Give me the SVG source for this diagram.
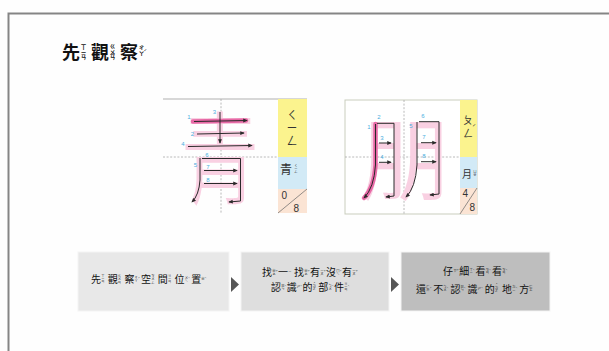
<svg xmlns="http://www.w3.org/2000/svg" width="609" height="351" viewBox="0 0 609 351">
  <defs>
    <style>
      .h { font-family: "Noto Sans CJK TC", "Noto Sans CJK SC", sans-serif; font-size: 10px; fill: #111; }
      .th { font-family: "Noto Sans CJK TC", "Noto Sans CJK SC", sans-serif; font-size: 18px; font-weight: bold; fill: #111; }
      .z { font-family: "Noto Sans CJK TC", "Noto Sans CJK SC", sans-serif; font-size: 3.3px; fill: #222; writing-mode: vertical-rl; text-anchor: middle; }
      .zt { font-family: "Noto Sans CJK TC", "Noto Sans CJK SC", sans-serif; font-size: 5.6px; fill: #111; writing-mode: vertical-rl; text-anchor: middle; font-weight: bold; }
      .t { font-family: "Noto Sans CJK TC", "Noto Sans CJK SC", sans-serif; font-size: 3.8px; fill: #222; }
      .tt { font-family: "Noto Sans CJK TC", "Noto Sans CJK SC", sans-serif; font-size: 6px; fill: #111; }
      .num { font-family: "Liberation Sans", Arial, sans-serif; font-size: 6px; fill: #4aaee0; text-anchor: middle; }
      .big { font-family: "Noto Sans CJK TC", "Noto Sans CJK SC", sans-serif; fill: #f9d0e2; text-anchor: middle; }
      .stk { fill: none; stroke: #2a2a2a; stroke-width: 1; stroke-linejoin: round; marker-end: url(#ah); }
      .hot { fill: none; stroke: #e4579b; stroke-width: 4.5; stroke-linecap: round; stroke-linejoin: round; opacity: 0.85; }
      .grid { stroke: #a8a8a8; stroke-width: 0.8; stroke-dasharray: 2 1.6; }
      .col { font-family: "Noto Sans CJK TC", "Noto Sans CJK SC", sans-serif; fill: #333; }
      .zc { font-family: "Noto Sans CJK TC", "Noto Sans CJK SC", sans-serif; fill: #333; writing-mode: vertical-rl; text-anchor: middle; }
      .dig { font-family: "Liberation Sans", Arial, sans-serif; font-size: 10px; fill: #333; }
      .box { stroke: #f4f4f4; stroke-width: 1; }
    </style>
    <marker id="ah" markerUnits="userSpaceOnUse" markerWidth="4.5" markerHeight="4.5" viewBox="0 0 6 6" refX="5" refY="3" orient="auto">
      <path d="M0,0.4 L6,3 L0,5.6 z" fill="#2a2a2a"/>
    </marker>
  </defs>

  <!-- page -->
  <rect x="0" y="0" width="609" height="351" fill="#fefefe"/>
  <rect id="frame" x="8.5" y="13.5" width="700" height="400" fill="none" stroke="#858585" stroke-width="2"/>

  <!-- heading -->
  <g id="title">
    <g transform="translate(62,59)"><text class="th">先</text><text class="zt" x="21.5" y="-7.5">ㄒㄧㄢ</text></g>
    <g transform="translate(91,59)"><text class="th">觀</text><text class="zt" x="21.5" y="-7.5">ㄍㄨㄢ</text></g>
    <g transform="translate(120,59)"><text class="th">察</text><text class="zt" x="21.5" y="-8">ㄔㄚ</text><text class="tt" x="23.6" y="-5.5">ˊ</text></g>
  </g>

  <!-- stroke order card: 青 -->
  <g id="card-qing">
    <line x1="163" y1="99" x2="307" y2="99" stroke="#b0b0b0" stroke-width="1"/>
    <line class="grid" x1="221" y1="99" x2="221" y2="213"/>
    <line class="grid" x1="163" y1="157" x2="278" y2="157"/>
    <text class="big" font-size="100" transform="translate(220,196) scale(0.78,1)">青</text>
    <path class="hot" d="M193,121.5 L246,120.5"/>
    <path class="stk" d="M194,121.5 L247,120.5"/>
    <path class="stk" d="M197,134 L244,133"/>
    <path class="stk" d="M220,112 L220,143"/>
    <path class="stk" d="M188,146.5 L252,145.5"/>
    <path class="stk" d="M200,158 L200,180 Q199,195 192,202"/>
    <path class="stk" d="M202,158.5 L240.5,158.5 L240.5,201 L229,202"/>
    <path class="stk" d="M204,170.5 L237,170.5"/>
    <path class="stk" d="M204,183.5 L237,183.5"/>
    <text class="num" x="189" y="119">1</text>
    <text class="num" x="192.5" y="135.5">2</text>
    <text class="num" x="214.5" y="114">3</text>
    <text class="num" x="183" y="145.5">4</text>
    <text class="num" x="195.5" y="167">5</text>
    <text class="num" x="207" y="156.5">6</text>
    <text class="num" x="208" y="168.5">7</text>
    <text class="num" x="208" y="181.5">8</text>
    <rect x="278" y="99" width="29" height="58" fill="#fbf38e"/>
    <text class="zc" font-size="11" letter-spacing="3" x="292" y="129">ㄑㄧㄥ</text>
    <rect x="278" y="157" width="29" height="32" fill="#d2eaf6"/>
    <text class="col" font-size="12" x="280" y="174">青</text>
    <text class="z" font-size="3.4" x="296" y="169">ㄑㄧㄥ</text>
    <rect x="278" y="189" width="29" height="24" fill="#fbe4d4"/>
    <line x1="278" y1="213" x2="307" y2="189" stroke="#666" stroke-width="0.7"/>
    <text class="dig" x="281.5" y="199">0</text>
    <text class="dig" x="293.5" y="211.5">8</text>
  </g>

  <!-- stroke order card: 朋 -->
  <g id="card-peng">
    <rect x="345" y="100" width="132" height="114" fill="#ffffff" stroke="#c9cdbd" stroke-width="1"/>
    <line class="grid" x1="404" y1="100" x2="404" y2="214"/>
    <line class="grid" x1="345" y1="157" x2="460" y2="157"/>
    <text class="big" font-size="90" x="405" y="193">朋</text>
    <path class="hot" d="M375.5,124 L375.5,165 Q374,188 364,198"/>
    <path class="stk" d="M375.5,124 L375.5,165 Q374,188 364,198"/>
    <path class="stk" d="M377,123.3 L394,123.3 L394,196 L386,197"/>
    <path class="stk" d="M379,143 L391,143"/>
    <path class="stk" d="M379,162.3 L391,162.3"/>
    <path class="stk" d="M417,122 L417,165 Q415.5,188 406,197"/>
    <path class="stk" d="M419,121.7 L439,121.7 L439,194 L430,195"/>
    <path class="stk" d="M421,142.7 L436,142.7"/>
    <path class="stk" d="M421,161.7 L436,161.7"/>
    <text class="num" x="369" y="129">1</text>
    <text class="num" x="379" y="119">2</text>
    <text class="num" x="382" y="139.5">3</text>
    <text class="num" x="382" y="158.5">4</text>
    <text class="num" x="411" y="128">5</text>
    <text class="num" x="423" y="117.5">6</text>
    <text class="num" x="424" y="139">7</text>
    <text class="num" x="424" y="158">8</text>
    <rect x="460" y="100" width="17" height="57" fill="#fbf38e"/>
    <text class="zc" font-size="10" letter-spacing="3" x="468" y="128">ㄆㄥ</text>
    <text class="col" font-size="7" x="472" y="130">ˊ</text>
    <rect x="460" y="157" width="17" height="31" fill="#d2eaf6"/>
    <text class="col" font-size="10" x="462" y="178">月</text>
    <text class="z" font-size="3.2" x="475" y="173">ㄩㄝ</text>
    <rect x="460" y="188" width="17" height="26" fill="#fbe4d4"/>
    <line x1="460" y1="214" x2="477" y2="188" stroke="#666" stroke-width="0.7"/>
    <text class="dig" font-size="8" x="462.5" y="197">4</text>
    <text class="dig" font-size="9" x="469.5" y="210.5">8</text>
  </g>

  <!-- step 1 -->
  <g id="step1">
    <rect class="box" x="78" y="252" width="151" height="59" fill="#e8e8e8"/>
    <g transform="translate(91,283)"><text class="h">先</text><text class="z" x="11.8" y="-4">ㄒㄧㄢ</text></g>
    <g transform="translate(107.7,283)"><text class="h">觀</text><text class="z" x="11.8" y="-4">ㄍㄨㄢ</text></g>
    <g transform="translate(124.4,283)"><text class="h">察</text><text class="z" x="11.8" y="-4">ㄔㄚ</text><text class="t" x="13.4" y="-3">ˊ</text></g>
    <g transform="translate(141.1,283)"><text class="h">空</text><text class="z" x="11.8" y="-4">ㄎㄨㄥ</text></g>
    <g transform="translate(157.8,283)"><text class="h">間</text><text class="z" x="11.8" y="-4">ㄐㄧㄢ</text></g>
    <g transform="translate(174.5,283)"><text class="h">位</text><text class="z" x="11.8" y="-4">ㄨㄟ</text><text class="t" x="13.4" y="-3">ˋ</text></g>
    <g transform="translate(191.2,283)"><text class="h">置</text><text class="z" x="11.8" y="-4">ㄓ</text><text class="t" x="13.4" y="-3">ˋ</text></g>
  </g>

  <!-- step 2 -->
  <g id="step2">
    <rect class="box" x="241" y="252" width="148" height="59" fill="#dedede"/>
    <g transform="translate(262,276)"><text class="h">找</text><text class="z" x="11.8" y="-4">ㄓㄠ</text><text class="t" x="13.4" y="-3">ˇ</text></g>
    <g transform="translate(278,276)"><text class="h">一</text><text class="z" x="11.8" y="-4">ㄧ</text></g>
    <g transform="translate(294,276)"><text class="h">找</text><text class="z" x="11.8" y="-4">ㄓㄠ</text><text class="t" x="13.4" y="-3">ˇ</text></g>
    <g transform="translate(310,276)"><text class="h">有</text><text class="z" x="11.8" y="-4">ㄧㄡ</text><text class="t" x="13.4" y="-3">ˇ</text></g>
    <g transform="translate(326,276)"><text class="h">沒</text><text class="z" x="11.8" y="-4">ㄇㄟ</text><text class="t" x="13.4" y="-3">ˊ</text></g>
    <g transform="translate(342,276)"><text class="h">有</text><text class="z" x="11.8" y="-4">ㄧㄡ</text><text class="t" x="13.4" y="-3">ˇ</text></g>
    <g transform="translate(271,291)"><text class="h">認</text><text class="z" x="11.8" y="-4">ㄖㄣ</text><text class="t" x="13.4" y="-3">ˋ</text></g>
    <g transform="translate(286.75,291)"><text class="h">識</text><text class="z" x="11.8" y="-4">ㄕ</text><text class="t" x="13.4" y="-3">ˋ</text></g>
    <g transform="translate(302.5,291)"><text class="h">的</text><text class="t" x="11" y="-7.4">˙</text><text class="z" x="11.8" y="-3.5">ㄉㄜ</text></g>
    <g transform="translate(318.25,291)"><text class="h">部</text><text class="z" x="11.8" y="-4">ㄅㄨ</text><text class="t" x="13.4" y="-3">ˋ</text></g>
    <g transform="translate(334,291)"><text class="h">件</text><text class="z" x="11.8" y="-4">ㄐㄧㄢ</text><text class="t" x="13.4" y="-3">ˋ</text></g>
  </g>

  <!-- step 3 -->
  <g id="step3">
    <rect class="box" x="401" y="252" width="149" height="59" fill="#bebebe"/>
    <g transform="translate(443,275)"><text class="h">仔</text><text class="z" x="11.8" y="-4">ㄗ</text><text class="t" x="13.4" y="-3">ˇ</text></g>
    <g transform="translate(459.3,275)"><text class="h">細</text><text class="z" x="11.8" y="-4">ㄒㄧ</text><text class="t" x="13.4" y="-3">ˋ</text></g>
    <g transform="translate(475.6,275)"><text class="h">看</text><text class="z" x="11.8" y="-4">ㄎㄢ</text><text class="t" x="13.4" y="-3">ˋ</text></g>
    <g transform="translate(492,275)"><text class="h">看</text><text class="z" x="11.8" y="-4">ㄎㄢ</text><text class="t" x="13.4" y="-3">ˋ</text></g>
    <g transform="translate(416,292.5)"><text class="h">還</text><text class="z" x="11.8" y="-4">ㄏㄞ</text><text class="t" x="13.4" y="-3">ˊ</text></g>
    <g transform="translate(433.2,292.5)"><text class="h">不</text><text class="z" x="11.8" y="-4">ㄅㄨ</text><text class="t" x="13.4" y="-3">ˋ</text></g>
    <g transform="translate(450.4,292.5)"><text class="h">認</text><text class="z" x="11.8" y="-4">ㄖㄣ</text><text class="t" x="13.4" y="-3">ˋ</text></g>
    <g transform="translate(467.6,292.5)"><text class="h">識</text><text class="z" x="11.8" y="-4">ㄕ</text><text class="t" x="13.4" y="-3">ˋ</text></g>
    <g transform="translate(484.8,292.5)"><text class="h">的</text><text class="t" x="11" y="-7.4">˙</text><text class="z" x="11.8" y="-3.5">ㄉㄜ</text></g>
    <g transform="translate(502,292.5)"><text class="h">地</text><text class="z" x="11.8" y="-4">ㄉㄧ</text><text class="t" x="13.4" y="-3">ˋ</text></g>
    <g transform="translate(519.2,292.5)"><text class="h">方</text><text class="z" x="11.8" y="-4">ㄈㄤ</text></g>
  </g>

  <!-- step arrows -->
  <g id="connectors" fill="#555555">
    <path d="M231,277 L239,284.5 L231,292 z"/>
    <path d="M391,277 L399,284.5 L391,292 z"/>
  </g>
</svg>
